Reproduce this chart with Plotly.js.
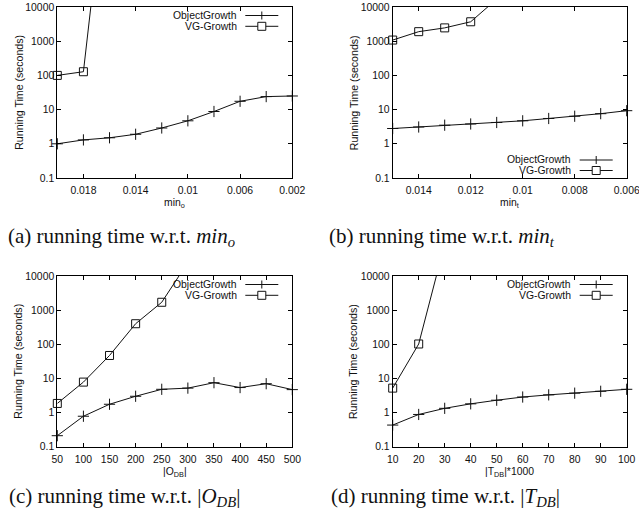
<!DOCTYPE html>
<html>
<head>
<meta charset="utf-8">
<script src="https://cdn.plot.ly/plotly-3.0.1.min.js"></script>
<style>html,body{margin:0;padding:0;background:#fff;}#chart{width:639px;height:522px;}</style>
</head>
<body>
<div id="chart"></div>
<script>
// ---- data ----
var seriesNames = ["ObjectGrowth", "VG-Growth"];

var aX = [0.02, 0.018, 0.016, 0.014, 0.012, 0.01, 0.008, 0.006, 0.004, 0.002];
var aObj = [1.0, 1.3, 1.5, 1.9, 2.9, 4.7, 8.8, 17.5, 24, 25];
var aVgX = [0.02, 0.018, 0.016];
var aVg = [100, 128, 6e8];

var bX = [0.015, 0.014, 0.013, 0.012, 0.011, 0.01, 0.009, 0.008, 0.007, 0.006];
var bObj = [2.8, 3.1, 3.5, 3.8, 4.2, 4.7, 5.5, 6.4, 7.6, 9.3];
var bVgX = [0.015, 0.014, 0.013, 0.012, 0.011];
var bVg = [1080, 1900, 2450, 3700, 17000];

var cX = [50, 100, 150, 200, 250, 300, 350, 400, 450, 500];
var cObj = [0.21, 0.78, 1.75, 3.0, 4.8, 5.2, 7.5, 5.4, 7.0, 4.7];
var cVgX = [50, 100, 150, 200, 250, 300];
var cVg = [1.85, 7.8, 47, 400, 1700, 25000];

var dX = [10, 20, 30, 40, 50, 60, 70, 80, 90, 100];
var dObj = [0.43, 0.88, 1.33, 1.8, 2.3, 2.85, 3.3, 3.7, 4.2, 4.8];
var dVgX = [10, 20, 30];
var dVg = [5.2, 102, 87000];

var yTickVals = [0.1, 1, 10, 100, 1000, 10000];
var yTickText = ["0.1", "1", "10", "100", "1000", "10000"];
var aTickVals = [0.018, 0.014, 0.01, 0.006, 0.002];
var aTickText = ["0.018", "0.014", "0.01", "0.006", "0.002"];
var bTickVals = [0.014, 0.012, 0.01, 0.008, 0.006];
var bTickText = ["0.014", "0.012", "0.01", "0.008", "0.006"];

var captions = [
  "(a) running time w.r.t. <i>min</i><sub><i>o</i></sub>",
  "(b) running time w.r.t. <i>min</i><sub><i>t</i></sub>",
  "(c) running time w.r.t. |<i>O</i><sub><i>DB</i></sub>|",
  "(d) running time w.r.t. |<i>T</i><sub><i>DB</i></sub>|"
];
var xTitles = ["min<sub>o</sub>", "min<sub>t</sub>", "|O<sub>DB</sub>|", "|T<sub>DB</sub>|*1000"];
var yTitle = "Running Time (seconds)";

// ---- layout geometry (pixels) ----
var W = 639, H = 522;
var YMAX = 10000;
var boxes = [
  {L: 57.3, R: 292.3, T: 7, B: 178, legend: "top"},
  {L: 392.7, R: 626.7, T: 7, B: 178, legend: "bottom"},
  {L: 57.3, R: 292.3, T: 276, B: 446.7, legend: "top"},
  {L: 392.7, R: 626.7, T: 276, B: 446.7, legend: "top"}
];
function px(x) { return x / W; }
function py(y) { return 1 - y / H; }

var LINE = "#111";
var SANS = "Liberation Sans, Arial, sans-serif";
var tickFont = {family: SANS, size: 10.4, color: "#111"};

function inRangeOpacity(y) { return y.map(function (v) { return v <= YMAX ? 1 : 0; }); }

function trace(x, y, i, k) {
  return {x: x, y: y, type: "scatter", mode: "lines+markers", name: seriesNames[k],
    xaxis: "x" + (i ? i + 1 : ""), yaxis: "y" + (i ? i + 1 : ""), showlegend: false,
    cliponaxis: false,
    line: {color: LINE, width: 1},
    marker: {symbol: k === 0 ? "cross-thin" : "square-open", size: 8, color: LINE,
      opacity: inRangeOpacity(y), line: {color: LINE, width: 1}}};
}

var data = [
  trace(aX, aObj, 0, 0), trace(aVgX, aVg, 0, 1),
  trace(bX, bObj, 1, 0), trace(bVgX, bVg, 1, 1),
  trace(cX, cObj, 2, 0), trace(cVgX, cVg, 2, 1),
  trace(dX, dObj, 3, 0), trace(dVgX, dVg, 3, 1)
];

function baseAxis() {
  return {showline: true, linecolor: "#000", linewidth: 1, mirror: "allticks",
    ticks: "inside", ticklen: 4, tickcolor: "#000", tickwidth: 1,
    showgrid: false, zeroline: false, tickfont: tickFont, fixedrange: true,
    ticklabeloverflow: "allow"};
}

var layout = {
  width: W, height: H, margin: {l: 0, r: 0, t: 0, b: 0},
  paper_bgcolor: "#fff", plot_bgcolor: "#fff", showlegend: false,
  shapes: [], annotations: []
};

var xSpecs = [
  {range: [0.02, 0.002], tickmode: "array", tickvals: aTickVals, ticktext: aTickText},
  {range: [0.015, 0.006], tickmode: "array", tickvals: bTickVals, ticktext: bTickText},
  {range: [50, 500], tickmode: "linear", tick0: 50, dtick: 50},
  {range: [10, 100], tickmode: "linear", tick0: 10, dtick: 10}
];

boxes.forEach(function (b, i) {
  var sfx = i ? String(i + 1) : "";
  var xa = baseAxis();
  Object.keys(xSpecs[i]).forEach(function (k) { xa[k] = xSpecs[i][k]; });
  xa.domain = [px(b.L), px(b.R)];
  xa.anchor = "y" + sfx;
  xa.ticklabelstandoff = 3;
  var ya = baseAxis();
  ya.type = "log";
  ya.range = [-1, 4];
  ya.tickmode = "array";
  ya.tickvals = yTickVals;
  ya.ticktext = yTickText;
  ya.domain = [py(b.B), py(b.T)];
  ya.anchor = "x" + sfx;
  layout["xaxis" + sfx] = xa;
  layout["yaxis" + sfx] = ya;

  // axis titles
  layout.annotations.push({xref: "paper", yref: "paper", x: px((b.L + b.R) / 2), y: py(b.B + 26),
    text: xTitles[i], showarrow: false, xanchor: "center", yanchor: "middle",
    font: {family: SANS, size: 10.4, color: "#111"}});
  layout.annotations.push({xref: "paper", yref: "paper", x: px(b.L - 39), y: py((b.T + b.B) / 2),
    text: yTitle, showarrow: false, textangle: -90, xanchor: "center", yanchor: "middle",
    font: {family: SANS, size: 10.6, color: "#111"}});

  // legend (gnuplot style: text, then sample)
  var rows = b.legend === "top" ? [b.T + 8.5, b.T + 19.3] : [b.B - 18, b.B - 7.5];
  var s0 = b.R - 47, s1 = b.R - 14, sc = (s0 + s1) / 2, tr = b.R - 53.5;
  rows.forEach(function (ry, k) {
    layout.annotations.push({xref: "paper", yref: "paper", x: px(tr), y: py(ry),
      text: seriesNames[k], showarrow: false, xanchor: "right", yanchor: "middle",
      font: {family: SANS, size: 10.4, color: "#111"}});
    layout.shapes.push({type: "line", xref: "paper", yref: "paper",
      x0: px(s0), x1: px(s1), y0: py(ry), y1: py(ry), line: {color: LINE, width: 1}});
    if (k === 0) {
      layout.shapes.push({type: "line", xref: "paper", yref: "paper",
        x0: px(sc), x1: px(sc), y0: py(ry - 4), y1: py(ry + 4), line: {color: LINE, width: 1}});
    } else {
      layout.shapes.push({type: "rect", xref: "paper", yref: "paper",
        x0: px(sc - 4), x1: px(sc + 4), y0: py(ry - 4), y1: py(ry + 4),
        fillcolor: "#fff", line: {color: LINE, width: 1}});
    }
  });
});

// captions
var capPos = [[121.5, 237], [441.5, 237], [124, 497], [445.5, 497]];
captions.forEach(function (t, i) {
  layout.annotations.push({xref: "paper", yref: "paper", x: px(capPos[i][0]), y: py(capPos[i][1]),
    text: t, showarrow: false, xanchor: "center", yanchor: "middle",
    font: {family: "Liberation Serif, Times New Roman, serif", size: 21, color: "#111"}});
});

Plotly.newPlot("chart", data, layout, {displayModeBar: false, staticPlot: true});
</script>
</body>
</html>
